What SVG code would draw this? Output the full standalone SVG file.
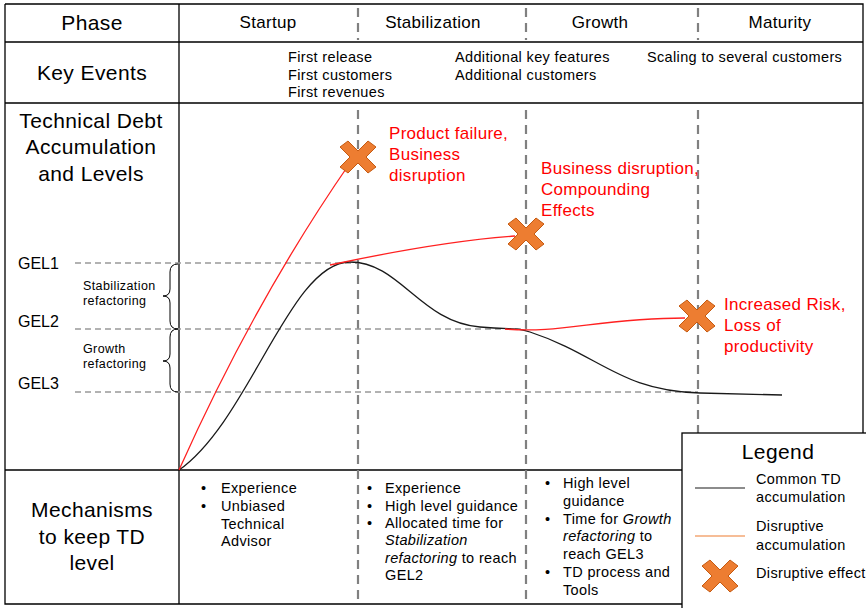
<svg xmlns="http://www.w3.org/2000/svg" width="866" height="608" viewBox="0 0 866 608">
<defs>
<style>
text{font-family:"Liberation Sans",Arial,sans-serif;fill:#000}
.big{font-size:21px;letter-spacing:0.4px;text-anchor:middle}
.ph{font-size:17px;letter-spacing:0.3px;text-anchor:middle}
.gel{font-size:16px;text-anchor:start}
.ke{font-size:14.5px;letter-spacing:0.35px}
.sm{font-size:14.5px;letter-spacing:0.35px}
.tiny{font-size:12.5px;letter-spacing:0.4px}
.red{font-size:17px;letter-spacing:0.3px;fill:#ff0000}
.grid{stroke:#000;stroke-width:1.3;fill:none}
.vdash{stroke:#808080;stroke-width:2.2;stroke-dasharray:9,6;fill:none}
.hdash{stroke:#999;stroke-width:1.3;stroke-dasharray:6,4;fill:none}
.common{stroke:#1a1a1a;stroke-width:1.3;fill:none}
.disr{stroke:#ff2020;stroke-width:1.3;fill:none}
.brace{stroke:#000;stroke-width:1;fill:none}
</style>
<path id="xm" d="M-18,-10 L-10,-16 L0,-6 L10,-16 L18,-10 L8,0 L18,10 L10,16 L0,6 L-10,16 L-18,10 L-8,0 Z" fill="#ED7D31" stroke="#C55A11" stroke-width="1"/>
</defs>
<rect width="866" height="608" fill="#fff"/>

<g id="table">
<path class="grid" d="M5,4 H863 V433 M5,4 V604 H682 M5,42 H863 M5,103 H863 M5,470 H682 M179,4 V604"/>
<path class="vdash" d="M358,8 V40 M526,8 V40 M698,8 V40 M358,110 V604 M526,110 V604 M698,110 V433"/>
</g>

<g id="header">
<text class="big" x="92" y="30">Phase</text>
<text class="ph" x="268" y="28">Startup</text>
<text class="ph" x="433" y="28">Stabilization</text>
<text class="ph" x="600" y="28">Growth</text>
<text class="ph" x="780" y="28">Maturity</text>
</g>

<g id="key-events">
<text class="big" x="92" y="80">Key Events</text>
<text class="ke" x="288" y="62">First release</text>
<text class="ke" x="288" y="80">First customers</text>
<text class="ke" x="288" y="97">First revenues</text>
<text class="ke" x="455" y="62">Additional key features</text>
<text class="ke" x="455" y="80">Additional customers</text>
<text class="ke" x="647" y="62">Scaling to several customers</text>
</g>

<g id="td-label">
<text class="big" x="91" y="128">Technical Debt</text>
<text class="big" x="91" y="154">Accumulation</text>
<text class="big" x="91" y="181">and Levels</text>
</g>

<g id="levels">
<path class="hdash" d="M75,263 H358 M75,329 H526 M75,392 H698"/>
<text class="gel" x="18" y="269">GEL1</text>
<text class="gel" x="18" y="327">GEL2</text>
<text class="gel" x="18" y="389">GEL3</text>
<path class="brace" d="M178,264 Q170,264 170,272 V289 Q170,296 163,296 Q170,296 170,303 V321 Q170,329 178,329"/>
<path class="brace" d="M178,329 Q170,329 170,337 V354 Q170,361 163,361 Q170,361 170,368 V384 Q170,392 178,392"/>
<text class="tiny" x="83" y="290">Stabilization</text>
<text class="tiny" x="83" y="305">refactoring</text>
<text class="tiny" x="83" y="353">Growth</text>
<text class="tiny" x="83" y="368">refactoring</text>
</g>

<g id="connectors">
<path class="common" d="M179,470 C250,420 290,262 350,262 C400,262 420,322 480,327 C515,330 515,327 530,332 C600,355 620,391 700,393 L782,395"/>
<path class="disr" d="M179,470 Q255,300 350,163"/>
<path class="disr" d="M330,265 C400,250 460,240 515,236"/>
<path class="disr" d="M505,329 C560,334 600,318 685,318"/>
</g>

<g id="effect1">
<use href="#xm" x="358" y="157"/>
<text class="red" x="389" y="139">Product failure,</text>
<text class="red" x="389" y="160">Business</text>
<text class="red" x="389" y="181">disruption</text>
</g>
<g id="effect2">
<use href="#xm" x="526" y="234"/>
<text class="red" x="541" y="174">Business disruption,</text>
<text class="red" x="541" y="195">Compounding</text>
<text class="red" x="541" y="216">Effects</text>
</g>
<g id="effect3">
<use href="#xm" x="697" y="316"/>
<text class="red" x="724" y="310">Increased Risk,</text>
<text class="red" x="724" y="331">Loss of</text>
<text class="red" x="724" y="352">productivity</text>
</g>

<g id="mechanisms">
<text class="big" x="92" y="517">Mechanisms</text>
<text class="big" x="92" y="544">to keep TD</text>
<text class="big" x="92" y="570">level</text>
</g>

<g id="mech-startup">
<text class="sm" x="201" y="493">•</text>
<text class="sm" x="221" y="493">Experience</text>
<text class="sm" x="201" y="511">•</text>
<text class="sm" x="221" y="511">Unbiased</text>
<text class="sm" x="221" y="529">Technical</text>
<text class="sm" x="221" y="546">Advisor</text>
</g>

<g id="mech-stab">
<text class="sm" x="367" y="493">•</text>
<text class="sm" x="385" y="493">Experience</text>
<text class="sm" x="367" y="511">•</text>
<text class="sm" x="385" y="511">High level guidance</text>
<text class="sm" x="367" y="528">•</text>
<text class="sm" x="385" y="528">Allocated time for</text>
<text class="sm" x="385" y="545" font-style="italic">Stabilization</text>
<text class="sm" x="385" y="563"><tspan font-style="italic">refactoring</tspan> to reach</text>
<text class="sm" x="385" y="580">GEL2</text>
</g>

<g id="mech-growth">
<text class="sm" x="545" y="488">•</text>
<text class="sm" x="563" y="488">High level</text>
<text class="sm" x="563" y="506">guidance</text>
<text class="sm" x="545" y="524">•</text>
<text class="sm" x="563" y="524">Time for <tspan font-style="italic">Growth</tspan></text>
<text class="sm" x="563" y="541"><tspan font-style="italic">refactoring</tspan> to</text>
<text class="sm" x="563" y="559">reach GEL3</text>
<text class="sm" x="545" y="577">•</text>
<text class="sm" x="563" y="577">TD process and</text>
<text class="sm" x="563" y="595">Tools</text>
</g>

<g id="legend">
<rect x="682" y="433" width="200" height="190" fill="#fff" stroke="#000" stroke-width="1.3"/>
<text class="big" x="778" y="459">Legend</text>
<line x1="695" y1="488" x2="745" y2="488" stroke="#1a1a1a" stroke-width="1.2"/>
<text class="sm" x="756" y="484">Common TD</text>
<text class="sm" x="756" y="502">accumulation</text>
<line x1="695" y1="536" x2="745" y2="536" stroke="#ED7D31" stroke-width="1.2"/>
<text class="sm" x="756" y="531">Disruptive</text>
<text class="sm" x="756" y="550">accumulation</text>
<use href="#xm" x="720" y="576"/>
<text class="sm" x="756" y="578">Disruptive effect</text>
</g>
</svg>
